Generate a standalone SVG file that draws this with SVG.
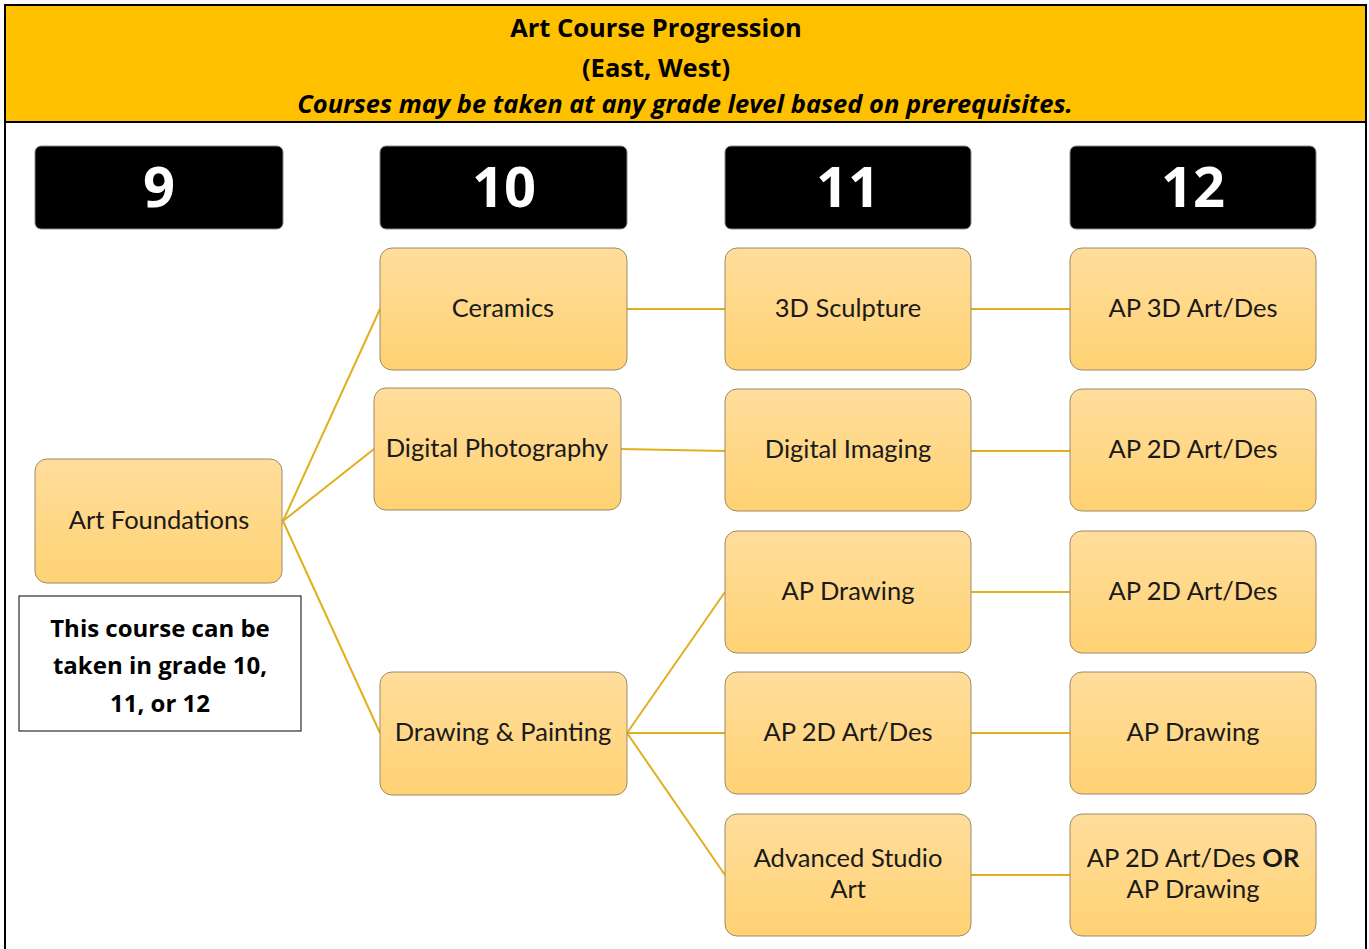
<svg xmlns="http://www.w3.org/2000/svg" width="1369" height="949" viewBox="0 0 1369 949">
<defs>
<linearGradient id="g" x1="0" y1="0" x2="0" y2="1">
<stop offset="0" stop-color="#FFDD9C"/>
<stop offset="1" stop-color="#FFD273"/>
</linearGradient>
<style>
.n{fill:url(#g);stroke:#9E8A68;stroke-width:1}
.t{font-family:Lato,"Liberation Sans",sans-serif;font-size:25.5px;fill:#1a1a1a;text-anchor:middle}
.h{fill:#000;stroke:#888;stroke-width:1}
.ht{font-family:"Open Sans","Liberation Sans",sans-serif;font-size:56px;font-weight:bold;fill:#fff;text-anchor:middle}
.c{stroke:#E0B01C;stroke-width:2;fill:none}
.title{font-family:"Open Sans","Liberation Sans",sans-serif;font-size:25.5px;font-weight:bold;fill:#000;text-anchor:middle}
.nt{font-family:"Open Sans","Liberation Sans",sans-serif;font-size:24px;font-weight:bold;fill:#000;text-anchor:middle}
</style>
</defs>
<rect x="0" y="0" width="1369" height="949" fill="#fff"/>
<rect x="5" y="5" width="1361" height="116" fill="#FFC000"/>
<rect x="5" y="5" width="1361" height="950" fill="none" stroke="#000" stroke-width="2"/>
<line x1="5" y1="122" x2="1366" y2="122" stroke="#000" stroke-width="2"/>
<g id="title">
<text class="title" x="656" y="37">Art Course Progression</text>
<text class="title" x="656" y="77">(East, West)</text>
<text class="title" x="685" y="113" font-style="italic">Courses may be taken at any grade level based on prerequisites.</text>
</g>
<g id="headers">
<g id="h9"><rect class="h" x="35" y="146" width="248" height="83" rx="6"/><text class="ht" x="159" y="207">9</text></g>
<g id="h10"><rect class="h" x="380" y="146" width="247" height="83" rx="6" stroke="none"/><text class="ht" x="504" y="207">10</text></g>
<g id="h11"><rect class="h" x="725" y="146" width="246" height="83" rx="6" stroke="none"/><text class="ht" x="848" y="207">11</text></g>
<g id="h12"><rect class="h" x="1070" y="146" width="246" height="83" rx="6" stroke="none"/><text class="ht" x="1193" y="207">12</text></g>
</g>
<g id="connectors">
<line class="c" x1="283" y1="521" x2="380" y2="309"/>
<line class="c" x1="283" y1="521" x2="374" y2="449"/>
<line class="c" x1="283" y1="521" x2="380" y2="733"/>
<line class="c" x1="627" y1="309" x2="725" y2="309"/>
<line class="c" x1="621" y1="449" x2="725" y2="451"/>
<line class="c" x1="627" y1="733" x2="725" y2="592"/>
<line class="c" x1="627" y1="733" x2="725" y2="733"/>
<line class="c" x1="627" y1="733" x2="725" y2="875"/>
<line class="c" x1="971" y1="309" x2="1070" y2="309"/>
<line class="c" x1="971" y1="451" x2="1070" y2="451"/>
<line class="c" x1="971" y1="592" x2="1070" y2="592"/>
<line class="c" x1="971" y1="733" x2="1070" y2="733"/>
<line class="c" x1="971" y1="875" x2="1070" y2="875"/>
</g>
<g id="artfoundations"><rect class="n" x="35" y="459" width="247" height="124" rx="12"/><text class="t" x="159" y="529">Art Foundations</text></g>
<g id="note"><rect x="19" y="596" width="282" height="135" fill="#fff" stroke="#000" stroke-width="1"/>
<text class="nt" x="160" y="637">This course can be</text>
<text class="nt" x="160" y="674">taken in grade 10,</text>
<text class="nt" x="160" y="712">11, or 12</text></g>
<g id="ceramics"><rect class="n" x="380" y="248" width="247" height="122" rx="12"/><text class="t" x="503" y="317">Ceramics</text></g>
<g id="digphoto"><rect class="n" x="374" y="388" width="247" height="122" rx="12"/><text class="t" x="497" y="457">Digital Photography</text></g>
<g id="drawpaint"><rect class="n" x="380" y="672" width="247" height="123" rx="12"/><text class="t" x="503" y="741">Drawing &amp; Painting</text></g>
<g id="sculpture"><rect class="n" x="725" y="248" width="246" height="122" rx="12"/><text class="t" x="848" y="317">3D Sculpture</text></g>
<g id="digimaging"><rect class="n" x="725" y="389" width="246" height="122" rx="12"/><text class="t" x="848" y="458">Digital Imaging</text></g>
<g id="apdrawing11"><rect class="n" x="725" y="531" width="246" height="122" rx="12"/><text class="t" x="848" y="600">AP Drawing</text></g>
<g id="ap2d11"><rect class="n" x="725" y="672" width="246" height="122" rx="12"/><text class="t" x="848" y="741">AP 2D Art/Des</text></g>
<g id="advstudio"><rect class="n" x="725" y="814" width="246" height="122" rx="12"/><text class="t" x="848" y="867">Advanced Studio</text><text class="t" x="848" y="898">Art</text></g>
<g id="ap3d12"><rect class="n" x="1070" y="248" width="246" height="122" rx="12"/><text class="t" x="1193" y="317">AP 3D Art/Des</text></g>
<g id="ap2d12a"><rect class="n" x="1070" y="389" width="246" height="122" rx="12"/><text class="t" x="1193" y="458">AP 2D Art/Des</text></g>
<g id="ap2d12b"><rect class="n" x="1070" y="531" width="246" height="122" rx="12"/><text class="t" x="1193" y="600">AP 2D Art/Des</text></g>
<g id="apdrawing12"><rect class="n" x="1070" y="672" width="246" height="122" rx="12"/><text class="t" x="1193" y="741">AP Drawing</text></g>
<g id="or12"><rect class="n" x="1070" y="814" width="246" height="122" rx="12"/><text class="t" x="1193" y="867">AP 2D Art/Des <tspan font-weight="bold">OR</tspan></text><text class="t" x="1193" y="898">AP Drawing</text></g>
</svg>
